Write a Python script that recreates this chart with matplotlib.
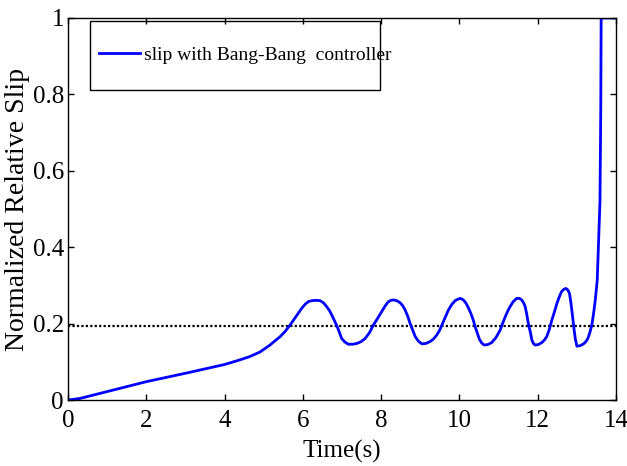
import matplotlib
matplotlib.use('Agg')
import matplotlib.pyplot as plt
from matplotlib.patches import Rectangle

# slip trace
t = [0.0, 0.3, 1.0, 2.0, 3.0, 4.0, 4.39, 4.65, 4.91, 5.16, 5.42, 5.55, 5.67,
     5.78, 5.88, 5.97, 6.06, 6.15, 6.23, 6.34, 6.44, 6.53, 6.61, 6.68, 6.74,
     6.80, 6.86, 6.93, 6.99, 7.07, 7.16, 7.27, 7.38, 7.49, 7.59, 7.70, 7.80,
     7.91, 8.01, 8.10, 8.18, 8.25, 8.31, 8.40, 8.48, 8.55, 8.61, 8.68, 8.74,
     8.81, 8.87, 8.95, 9.04, 9.14, 9.25, 9.34, 9.42, 9.49, 9.55, 9.64, 9.72,
     9.81, 9.89, 9.96, 10.03, 10.10, 10.17, 10.23, 10.29, 10.35, 10.40, 10.46,
     10.51, 10.57, 10.63, 10.72, 10.82, 10.93, 11.04, 11.10, 11.17, 11.23,
     11.29, 11.37, 11.46, 11.53, 11.59, 11.64, 11.68, 11.72, 11.76, 11.81,
     11.85, 11.89, 11.93, 12.01, 12.10, 12.17, 12.23, 12.30, 12.36, 12.43,
     12.49, 12.55, 12.61, 12.67, 12.72, 12.77, 12.81, 12.84, 12.87, 12.90,
     12.93, 12.96, 13.0, 13.08, 13.17, 13.23, 13.28, 13.33, 13.38, 13.42,
     13.46, 13.49, 13.52, 13.55, 13.59, 13.61, 13.62, 14.0]
slip = [0.0, 0.004, 0.022, 0.048, 0.070, 0.093, 0.105, 0.114, 0.126, 0.144,
        0.166, 0.180, 0.196, 0.212, 0.227, 0.240, 0.251, 0.258, 0.260, 0.261,
        0.260, 0.254, 0.244, 0.234, 0.222, 0.209, 0.196, 0.178, 0.161, 0.152,
        0.146, 0.146, 0.148, 0.153, 0.161, 0.176, 0.196, 0.214, 0.231, 0.246,
        0.257, 0.261, 0.262, 0.260, 0.255, 0.247, 0.236, 0.219, 0.200, 0.182,
        0.166, 0.154, 0.147, 0.148, 0.153, 0.160, 0.170, 0.182, 0.196, 0.217,
        0.236, 0.251, 0.260, 0.264, 0.266, 0.262, 0.253, 0.241, 0.227, 0.210,
        0.192, 0.174, 0.159, 0.149, 0.144, 0.145, 0.150, 0.163, 0.183, 0.200,
        0.218, 0.232, 0.244, 0.257, 0.266, 0.266, 0.262, 0.254, 0.244, 0.224,
        0.200, 0.178, 0.157, 0.148, 0.144, 0.145, 0.150, 0.157, 0.166, 0.186,
        0.209, 0.232, 0.253, 0.270, 0.284, 0.290, 0.292, 0.288, 0.279, 0.260,
        0.236, 0.209, 0.183, 0.160, 0.141, 0.142, 0.147, 0.153, 0.161, 0.176,
        0.196, 0.222, 0.253, 0.282, 0.314, 0.400, 0.520, 0.760, 1.0, 1.0]
ref_level = 0.195
xticks = [0, 2, 4, 6, 8, 10, 12, 14]
yticks = [0, 0.2, 0.4, 0.6, 0.8, 1]
ytick_labels = ['0', '0.2', '0.4', '0.6', '0.8', '1']

plt.rcParams['font.family'] = ['Liberation Serif', 'DejaVu Serif']

fig = plt.figure(figsize=(6.27, 4.66), dpi=100)
ax = fig.add_axes([0.1085, 0.1416, 0.874, 0.8198])

ax.plot([0, 14], [ref_level, ref_level], color='black', linestyle=(0, (1, 1)), linewidth=1.6)
line, = ax.plot(t, slip, color='#0000ff', linewidth=2.0, solid_joinstyle='round',
                label='slip with Bang-Bang  controller')

ax.set_xlim(0, 14)
ax.set_ylim(0, 1)
ax.set_xticks(xticks)
ax.set_yticks(yticks)
ax.set_yticklabels(ytick_labels)
ax.tick_params(direction='in', length=4, width=1, top=True, right=True, labelsize=18)
ax.tick_params(axis='x', pad=7)
ax.tick_params(axis='y', pad=3)
for s in ax.spines.values():
    s.set_linewidth(1.0)

ax.set_xlabel('Time(s)', fontsize=18, labelpad=6)
ax.set_ylabel('Normalized Relative Slip', fontsize=20, labelpad=2)

# legend box drawn separately so its padding matches
ax.add_patch(Rectangle((0.040, 0.812), 0.529, 0.180, transform=ax.transAxes,
                       fill=False, edgecolor='black', linewidth=1.0, zorder=5))
ax.legend(handles=[line], loc='center left', bbox_to_anchor=(0.056, 0.902),
          frameon=False, fontsize=14, handlelength=2.1, handletextpad=0.25,
          borderpad=0, borderaxespad=0)

fig.savefig('out.png', dpi=100)
